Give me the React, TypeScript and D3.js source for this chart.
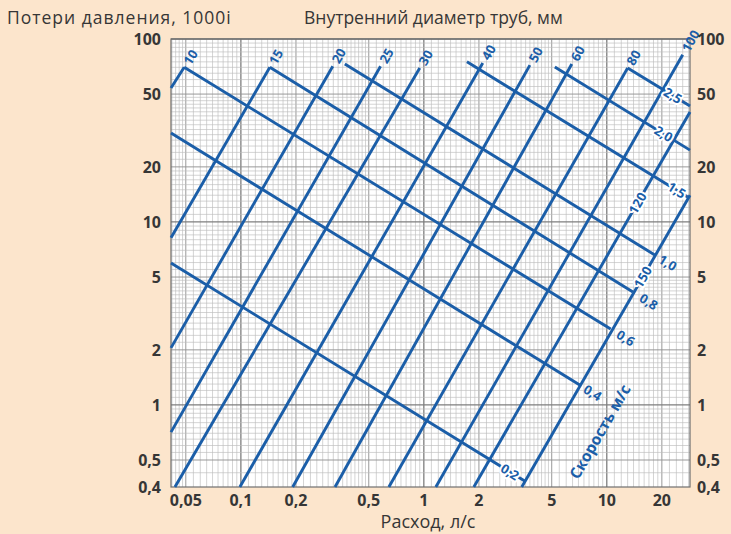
import React, { useEffect, useRef } from 'react';
import * as d3 from 'd3';

const W = 731;
const H = 534;

// inner pipe diameters, mm
const diameters = [10, 15, 20, 25, 30, 40, 50, 60, 80, 100, 120, 150];
// lower and upper end of every diameter line: [расход л/с, 1000i]
const diamLow: [number, number][] = [
  [0.0415, 54], [0.0415, 8.2], [0.0415, 2.05], [0.0415, 0.71], [0.0436, 0.4], [0.0987, 0.4],
  [0.192, 0.4], [0.327, 0.4], [0.644, 0.4], [1.163, 0.4], [1.876, 0.4], [3.43, 0.4],
];
const diamHigh: [number, number][] = [
  [0.049, 70], [0.144, 70], [0.318, 71], [0.58, 71], [0.95, 69.4], [2.1, 74],
  [3.8, 72], [6.44, 73], [13.0, 69.4], [26.0, 82], [28.5, 39.9], [28.5, 14.0],
];

// flow speed, m/s
const speeds = [0.2, 0.4, 0.6, 0.8, 1.0, 1.5, 2.0, 2.5];
const speedStart: [number, number][] = [
  [0.0415, 5.97], [0.0415, 30.6], [0.049, 70], [0.144, 70], [0.37, 73], [1.72, 75], [5.2, 70.3], [13.0, 69.4],
];
const speedEnd: [number, number][] = [
  [3.56, 0.42], [7.12, 1.286], [10.5, 2.6], [13.9, 4.14], [18.3, 6.6], [27.7, 13.7], [28.5, 24.7], [28.5, 43.0],
];

const yTicks = [100, 50, 20, 10, 5, 2, 1, 0.5, 0.4];
const xTicks = [0.05, 0.1, 0.2, 0.5, 1, 2, 5, 10, 20];

const fmt = (v: number) => String(v).replace('.', ',');

const BLUE = '#1b5ea8';
const INK = '#363636';
const FONT = '"Open Sans", "DejaVu Sans", sans-serif';

export default function App() {
  const ref = useRef<SVGSVGElement>(null);

  useEffect(() => {
    if (!ref.current) return;
    const svg = d3.select(ref.current);
    svg.selectAll('*').remove();

    const left = 171, right = 690, top = 39, bottom = 487;

    const x = d3.scaleLog().domain([0.0415, 28.5]).range([left, right]);
    // the bottom band 0,4..0,5 is stretched on the original paper
    const y = d3.scaleLog().domain([0.4, 0.5, 100]).range([bottom, 460, top]);

    svg.append('rect').attr('width', W).attr('height', H).attr('fill', '#fce5cc');
    svg.append('rect')
      .attr('x', left).attr('y', top)
      .attr('width', right - left).attr('height', bottom - top)
      .attr('fill', '#ffffff');

    // log graph paper
    const paper = (lo: number, hi: number) => {
      const out: { v: number; kind: number }[] = [];
      for (let k = -2; k <= 2; k++) {
        const p = Math.pow(10, k);
        const push = (m: number, kind: number) => {
          const v = +(m * p).toPrecision(6);
          if (v >= lo * 0.999 && v <= hi * 1.001) out.push({ v, kind });
        };
        for (let m = 1; m < 2 - 1e-9; m += 0.1) push(m, Math.abs(m - 1) < 1e-9 ? 2 : 0);
        for (let m = 2; m < 5 - 1e-9; m += 0.2) push(m, Math.abs(m - 2) < 1e-9 ? 1 : 0);
        for (let m = 5; m < 10 - 1e-9; m += 0.5) push(m, Math.abs(m - 5) < 1e-9 ? 1 : 0);
      }
      return out;
    };
    const gStroke = ['#bdbdbd', '#939393', '#7e7e7e'];
    const gWidth = [0.65, 0.95, 1.3];

    const grid = svg.append('g');
    grid.selectAll('.gx')
      .data(paper(0.0415, 28.5))
      .enter().append('line')
      .attr('x1', d => x(d.v)).attr('x2', d => x(d.v))
      .attr('y1', top).attr('y2', bottom)
      .attr('stroke', d => gStroke[d.kind])
      .attr('stroke-width', d => gWidth[d.kind]);
    const yGrid = paper(0.5, 100).concat([{ v: 0.45, kind: 0 }]);
    grid.selectAll('.gy')
      .data(yGrid)
      .enter().append('line')
      .attr('y1', d => y(d.v)).attr('y2', d => y(d.v))
      .attr('x1', left).attr('x2', right)
      .attr('stroke', d => gStroke[d.kind])
      .attr('stroke-width', d => gWidth[d.kind]);

    svg.append('rect')
      .attr('x', left).attr('y', top)
      .attr('width', right - left).attr('height', bottom - top)
      .attr('fill', 'none').attr('stroke', '#6e6e6e').attr('stroke-width', 1.2);

    const line = d3.line<[number, number]>().x(d => x(d[0])).y(d => y(d[1]));

    const lines = svg.append('g')
      .attr('fill', 'none').attr('stroke', BLUE)
      .attr('stroke-width', 2.9).attr('stroke-linecap', 'butt');

    diameters.forEach((d, i) => {
      lines.append('path').attr('d', line([diamLow[i], diamHigh[i]]));
    });
    speeds.forEach((v, i) => {
      lines.append('path').attr('d', line([speedStart[i], speedEnd[i]]));
    });

    const labels = svg.append('g')
      .attr('fill', BLUE)
      .attr('font-family', FONT)
      .attr('font-weight', 700)
      .attr('font-size', 13)
      .attr('text-anchor', 'middle');

    const put = (px: number, py: number, ang: number, text: string, halo: boolean) => {
      const t = labels.append('text')
        .attr('transform', `translate(${px},${py}) rotate(${ang})`)
        .attr('dy', '0.36em')
        .text(text);
      if (halo) {
        t.attr('stroke', '#ffffff').attr('stroke-width', 4)
          .attr('paint-order', 'stroke').attr('stroke-linejoin', 'round');
      }
    };

    // diameter labels
    diameters.forEach((d, i) => {
      const sx = x(diamLow[i][0]), sy = y(diamLow[i][1]);
      const ex = x(diamHigh[i][0]), ey = y(diamHigh[i][1]);
      const len = Math.hypot(ex - sx, ey - sy);
      const ux = (ex - sx) / len, uy = (ey - sy) / len;
      const ang = Math.atan2(uy, ux) * 180 / Math.PI;
      const text = String(d);
      if (d <= 100) {
        const off = 4 + text.length * 4;
        put(ex + ux * off, ey + uy * off, ang, text, false);
      } else {
        const t = d === 120 ? 0.757 : 0.719;
        put(sx + (ex - sx) * t, sy + (ey - sy) * t, ang, text, true);
      }
    });

    // speed labels
    const speedLabelOff = [-17.5, 15, 17.5, 18.5, 15, -13, -31, -20];
    speeds.forEach((v, i) => {
      const sx = x(speedStart[i][0]), sy = y(speedStart[i][1]);
      const ex = x(speedEnd[i][0]), ey = y(speedEnd[i][1]);
      const len = Math.hypot(ex - sx, ey - sy);
      const ux = (ex - sx) / len, uy = (ey - sy) / len;
      const ang = Math.atan2(uy, ux) * 180 / Math.PI;
      const o = speedLabelOff[i];
      put(ex + ux * o, ey + uy * o, ang, v.toFixed(1).replace('.', ','), o < 0);
    });

    // "Скорость м/с" along the 150 mm line
    {
      const i = diameters.indexOf(150);
      const sx = x(diamLow[i][0]), sy = y(diamLow[i][1]);
      const ex = x(diamHigh[i][0]), ey = y(diamHigh[i][1]);
      const len = Math.hypot(ex - sx, ey - sy);
      const ux = (ex - sx) / len, uy = (ey - sy) / len;
      const nx = -uy, ny = ux;
      const ang = Math.atan2(uy, ux) * 180 / Math.PI;
      labels.append('text')
        .attr('transform', `translate(${sx + ux * 87 + nx * 40},${sy + uy * 87 + ny * 40}) rotate(${ang})`)
        .attr('dy', '0.36em')
        .attr('font-size', 15.5)
        .text('Скорость м/с');
    }

    // tick labels
    const ticks = svg.append('g')
      .attr('fill', INK)
      .attr('font-family', FONT)
      .attr('font-weight', 700)
      .attr('font-size', 16);

    ticks.selectAll('.yl')
      .data(yTicks)
      .enter().append('text')
      .attr('x', 161).attr('y', d => y(d))
      .attr('dy', '0.36em')
      .attr('text-anchor', 'end')
      .text(d => fmt(d));
    ticks.selectAll('.yr')
      .data(yTicks)
      .enter().append('text')
      .attr('x', 697).attr('y', d => y(d))
      .attr('dy', '0.36em')
      .attr('text-anchor', 'start')
      .text(d => fmt(d));
    ticks.selectAll('.xl')
      .data(xTicks)
      .enter().append('text')
      .attr('x', d => x(d)).attr('y', 506)
      .attr('text-anchor', 'middle')
      .text(d => fmt(d));

    const titles = svg.append('g')
      .attr('fill', INK)
      .attr('font-family', FONT)
      .attr('font-size', 17.5);
    titles.append('text').attr('x', 7).attr('y', 24).attr('letter-spacing', 1).text('Потери давления, 1000i');
    titles.append('text').attr('x', 304).attr('y', 24).text('Внутренний диаметр труб, мм');
    titles.append('text').attr('x', 428).attr('y', 528).attr('text-anchor', 'middle').attr('font-size', 18).text('Расход, л/с');
  }, []);

  return (
    <svg
      ref={ref}
      width={W}
      height={H}
      style={{ position: 'absolute', left: 0, top: 0, display: 'block' }}
    />
  );
}
